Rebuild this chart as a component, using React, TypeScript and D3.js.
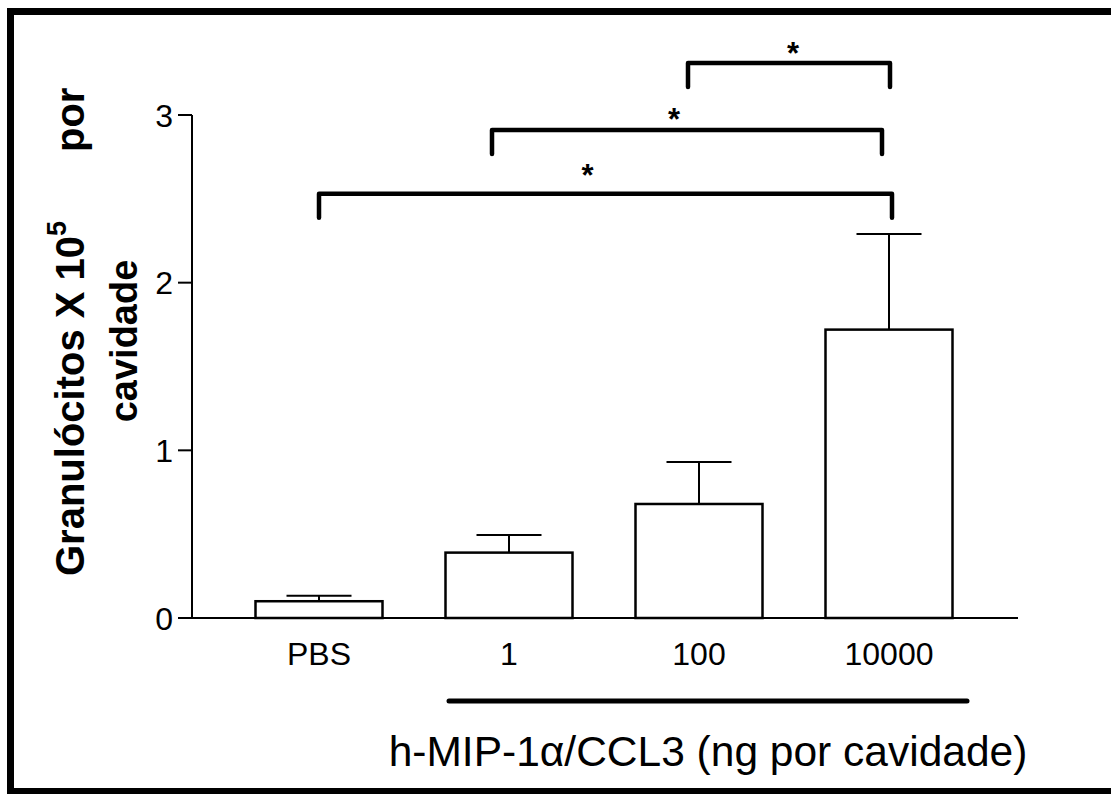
import React from "react";
import * as d3 from "d3";

const categories = ["PBS", "1", "100", "10000"];
const means = [0.1, 0.39, 0.68, 1.72];
const errors = [0.033, 0.105, 0.25, 0.57];
const yTicks = [0, 1, 2, 3];
// significance brackets: from/to category index, level (y units), label
const bracketFrom = [0, 1, 2];
const bracketTo = [3, 3, 3];
const bracketLevel = [2.53, 2.91, 3.31];
const bracketLabels = ["*", "*", "*"];
const yLabelMain = "Granulócitos X 10";
const yLabelSup = "5";
const yLabelTail = "por";
const yLabelLine2 = "cavidade";
const xTitle = "h-MIP-1α/CCL3 (ng por cavidade)";

const FONT = "'Liberation Sans', Arial, Helvetica, sans-serif";

export default function App() {
  const W = 1111;
  const H = 794;
  const y = d3.scaleLinear().domain([0, 3]).range([618, 115]);
  const x = d3.scalePoint<string>().domain(categories).range([319, 889]);
  const barW = 127;
  const capW = 65;
  const axisX = 192;

  // bracket endpoint nudges (pixels) matching the original drawing
  const fromNudge = [0, -17, -11];
  const toNudge = [3, -7, 1];
  const starNudge = [-18, -13, 4];
  const starLift = [7.5, 0, -0.5];
  const drop = 24;

  return (
    <svg
      width={W}
      height={H}
      style={{ position: "absolute", left: 0, top: 0, background: "#fff" }}
      fontFamily={FONT}
    >
      <rect x={0} y={0} width={W} height={H} fill="#fff" />
      {/* outer frame */}
      <rect x={10.5} y={11.5} width={1115} height={780} fill="none" stroke="#000" strokeWidth={7} />

      {/* y axis */}
      <line x1={axisX} x2={axisX} y1={y(3)} y2={y(0)} stroke="#000" strokeWidth={2} />
      {yTicks.map((t) => (
        <g key={t}>
          <line x1={axisX - 14} x2={axisX} y1={y(t)} y2={y(t)} stroke="#000" strokeWidth={2} />
          <text x={173} y={y(t) + 11.5} textAnchor="end" fontSize={32} fill="#000">
            {t}
          </text>
        </g>
      ))}
      {/* x baseline */}
      <line x1={axisX - 14} x2={1018} y1={y(0)} y2={y(0)} stroke="#000" strokeWidth={2} />

      {/* bars */}
      {categories.map((c, i) => {
        const cx = x(c)!;
        return (
          <g key={c}>
            <line x1={cx} x2={cx} y1={y(means[i])} y2={y(means[i] + errors[i])} stroke="#000" strokeWidth={2} />
            <line
              x1={cx - capW / 2}
              x2={cx + capW / 2}
              y1={y(means[i] + errors[i])}
              y2={y(means[i] + errors[i])}
              stroke="#000"
              strokeWidth={2}
            />
            <rect
              x={cx - barW / 2}
              y={y(means[i])}
              width={barW}
              height={y(0) - y(means[i])}
              fill="#fff"
              stroke="#000"
              strokeWidth={2.5}
            />
            <text x={cx} y={665} textAnchor="middle" fontSize={32} fill="#000">
              {c}
            </text>
          </g>
        );
      })}

      {/* significance brackets */}
      {bracketFrom.map((f, i) => {
        const x1 = x(categories[f])! + fromNudge[i];
        const x2 = x(categories[bracketTo[i]])! + toNudge[i];
        const yy = y(bracketLevel[i]);
        return (
          <g key={i}>
            <path
              d={`M${x1},${yy + drop}V${yy}H${x2}V${yy + drop}`}
              fill="none"
              stroke="#000"
              strokeWidth={4.5}
              strokeLinecap="round"
              strokeLinejoin="round"
            />
            <text
              x={(x1 + x2) / 2 + starNudge[i]}
              y={yy - starLift[i]}
              textAnchor="middle"
              fontSize={31}
              fontWeight="bold"
              fill="#000"
            >
              {bracketLabels[i]}
            </text>
          </g>
        );
      })}

      {/* dose line */}
      <line x1={449} x2={967} y1={701} y2={701} stroke="#000" strokeWidth={5} strokeLinecap="round" />

      {/* x title */}
      <text x={708} y={766} textAnchor="middle" fontSize={42.5} fill="#000">
        {xTitle}
      </text>

      {/* y title */}
      <g transform="translate(84,0) rotate(-90)">
        <text x={-576} y={0} textAnchor="start" fontSize={40} fontWeight="bold" fill="#000">
          {yLabelMain}
          <tspan dy={-18} fontSize={27}>{yLabelSup}</tspan>
        </text>
        <text x={-152} y={0} textAnchor="start" fontSize={40} fontWeight="bold" fill="#000">
          {yLabelTail}
        </text>
      </g>
      <g transform="translate(137,341) rotate(-90)">
        <text x={0} y={0} textAnchor="middle" fontSize={38} fontWeight="bold" fill="#000">
          {yLabelLine2}
        </text>
      </g>
    </svg>
  );
}
